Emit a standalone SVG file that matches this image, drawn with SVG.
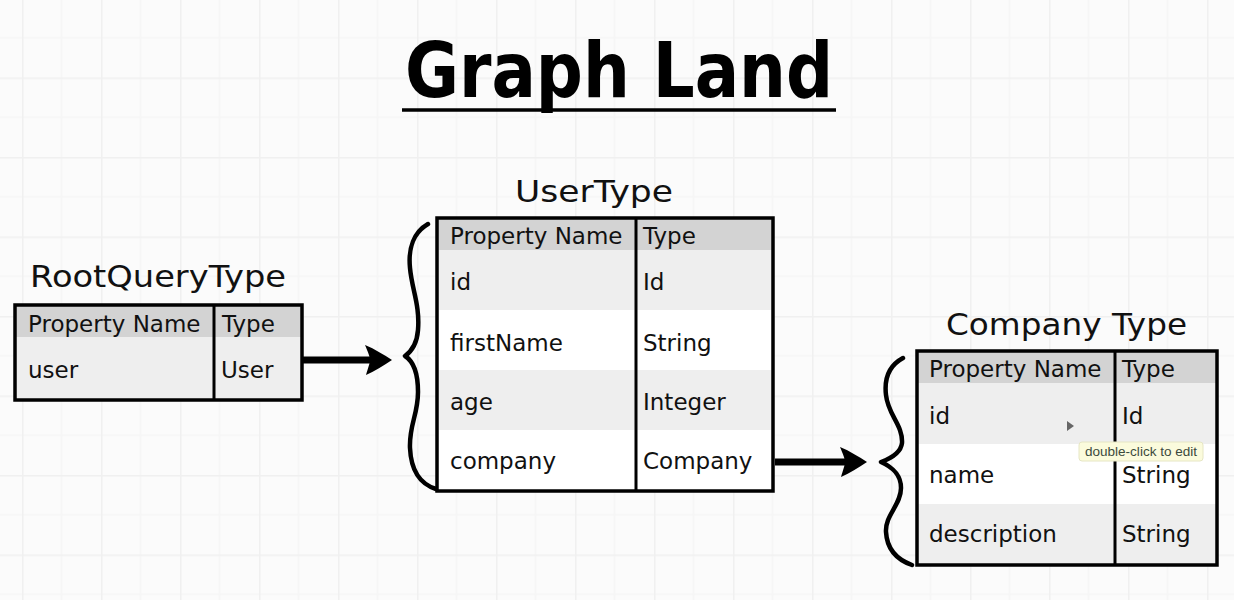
<svg xmlns="http://www.w3.org/2000/svg" width="1234" height="600" viewBox="0 0 1234 600">
  <defs>
    <pattern id="grid" x="22" y="-2" width="79" height="79.5" patternUnits="userSpaceOnUse">
      <rect width="79" height="79.5" fill="#fbfbfb"/>
      <line x1="39.5" y1="0" x2="39.5" y2="79.5" stroke="#f6f6f6" stroke-width="1.5"/>
      <line x1="0" y1="39.7" x2="79" y2="39.7" stroke="#f6f6f6" stroke-width="1.5"/>
      <line x1="0.5" y1="0" x2="0.5" y2="79.5" stroke="#f0f0f0" stroke-width="2"/>
      <line x1="0" y1="0.5" x2="79" y2="0.5" stroke="#f0f0f0" stroke-width="2"/>
    </pattern>
    <marker id="head" viewBox="-30 -17 32 34" markerWidth="32" markerHeight="34" refX="-20" refY="0" markerUnits="userSpaceOnUse" orient="auto">
      <path d="M0,0 C-8,-5 -17,-11 -27,-15 C-24,-8 -22,-3 -22,0 C-22,3 -24,8 -26,15 C-17,11 -8,5 0,0 Z" fill="#000"/>
    </marker>
  </defs>
  <style>
    .title { font-family: "DejaVu Sans", "Liberation Sans", sans-serif; font-size: 30px; fill: #111; }
    .cell { font-family: "DejaVu Sans", "Liberation Sans", sans-serif; font-size: 23px; fill: #111; }
    .hdr { fill: #d3d3d3; }
    .odd { fill: #eeeeee; }
    .even { fill: #ffffff; }
    .frame { fill: none; stroke: #000; stroke-width: 3.5; }
    .div { stroke: #000; stroke-width: 3; }
    .brace { fill: none; stroke: #000; stroke-width: 4.5; stroke-linecap: round; stroke-linejoin: round; }
    .conn { fill: none; stroke: #000; stroke-width: 7; }
  </style>

  <rect width="1234" height="600" fill="url(#grid)"/>

  <g id="heading">
    <text x="405" y="97" font-family="DejaVu Sans, Liberation Sans, sans-serif" font-weight="bold" font-size="76" textLength="428" lengthAdjust="spacingAndGlyphs" fill="#000">Graph Land</text>
    <line x1="402" y1="110" x2="836" y2="110" stroke="#000" stroke-width="3.5"/>
  </g>

  <g id="root-query-type">
    <text class="title" x="30" y="287" textLength="256" lengthAdjust="spacingAndGlyphs">RootQueryType</text>
    <rect class="hdr" x="15" y="305" width="287" height="32"/>
    <rect class="odd" x="15" y="337" width="287" height="63"/>
    <line class="div" x1="214" y1="305" x2="214" y2="400"/>
    <rect class="frame" x="15" y="305" width="287" height="95"/>
    <text class="cell" x="28" y="332">Property Name</text>
    <text class="cell" x="222" y="332">Type</text>
    <text class="cell" x="28" y="378">user</text>
    <text class="cell" x="221" y="378">User</text>
  </g>

  <g id="user-type">
    <text class="title" x="515" y="202" textLength="158" lengthAdjust="spacingAndGlyphs">UserType</text>
    <path class="brace" d="M428,224 C414,232 408,248 410,268 C412,290 420,305 418,330 C417,343 412,351 405,356 C413,361 418,372 418,392 C418,415 409,425 410,448 C411,470 420,484 436,489"/>
    <rect class="hdr" x="437" y="218" width="336" height="32"/>
    <rect class="odd" x="437" y="250" width="336" height="60"/>
    <rect class="even" x="437" y="310" width="336" height="60"/>
    <rect class="odd" x="437" y="370" width="336" height="60"/>
    <rect class="even" x="437" y="430" width="336" height="61"/>
    <line class="div" x1="636" y1="218" x2="636" y2="491"/>
    <rect class="frame" x="437" y="218" width="336" height="273"/>
    <text class="cell" x="450" y="244">Property Name</text>
    <text class="cell" x="643" y="244">Type</text>
    <text class="cell" x="450" y="290">id</text>
    <text class="cell" x="643" y="290">Id</text>
    <text class="cell" x="450" y="351">firstName</text>
    <text class="cell" x="643" y="351">String</text>
    <text class="cell" x="450" y="410">age</text>
    <text class="cell" x="643" y="410">Integer</text>
    <text class="cell" x="450" y="469">company</text>
    <text class="cell" x="643" y="469">Company</text>
  </g>

  <g id="company-type">
    <text class="title" x="946" y="335" textLength="241" lengthAdjust="spacingAndGlyphs">Company Type</text>
    <path class="brace" d="M903,358 C890,365 884,378 886,395 C888,415 903,425 902,443 C901,452 892,458 881,462 C892,467 901,474 901,488 C901,505 885,515 886,532 C887,550 898,560 912,565"/>
    <rect class="hdr" x="917" y="351" width="300" height="32"/>
    <rect class="odd" x="917" y="383" width="300" height="61"/>
    <rect class="even" x="917" y="444" width="300" height="60"/>
    <rect class="odd" x="917" y="504" width="300" height="61"/>
    <line class="div" x1="1115" y1="351" x2="1115" y2="565"/>
    <rect class="frame" x="917" y="351" width="300" height="214"/>
    <text class="cell" x="929" y="377">Property Name</text>
    <text class="cell" x="1122" y="377">Type</text>
    <text class="cell" x="929" y="424">id</text>
    <text class="cell" x="1122" y="424">Id</text>
    <text class="cell" x="929" y="483">name</text>
    <text class="cell" x="1122" y="483">String</text>
    <text class="cell" x="929" y="542">description</text>
    <text class="cell" x="1122" y="542">String</text>
  </g>

  <g id="connectors">
    <path class="conn" d="M302,360 L372,360" marker-end="url(#head)"/>
    <path class="conn" d="M775,462 L847,462" marker-end="url(#head)"/>
  </g>

  <g id="tooltip">
    <polygon points="1067,421 1074,426 1067,431" fill="#666"/>
    <rect x="1079" y="442" width="124" height="19" rx="3" fill="#fbfbdc" stroke="#e6e6c4" stroke-width="1"/>
    <text x="1085" y="456" font-family="Liberation Sans, Arial, sans-serif" font-size="12" textLength="112" lengthAdjust="spacingAndGlyphs" fill="#3c4a3c">double-click to edit</text>
  </g>
</svg>
